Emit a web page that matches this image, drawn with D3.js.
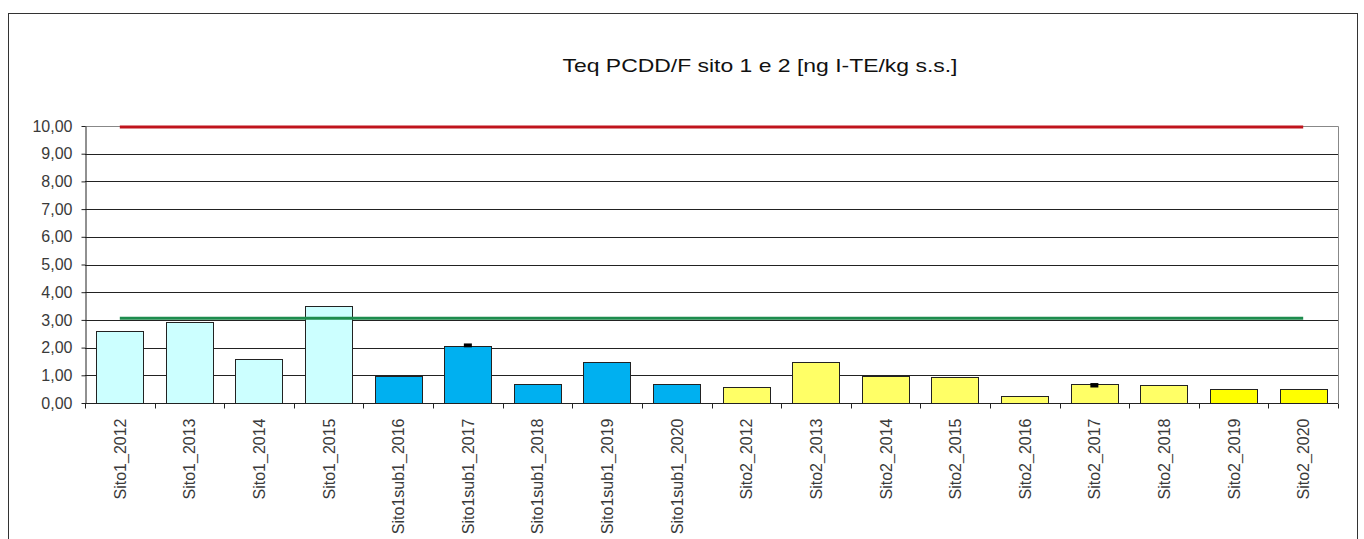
<!DOCTYPE html>
<html><head><meta charset="utf-8">
<script src="https://cdn.jsdelivr.net/npm/d3@7"></script>
<style>body{margin:0;background:#fff}svg{display:block}text{font-family:Arial,"Liberation Sans",sans-serif}</style>
</head><body>
<svg id="c" width="1364" height="539"></svg>
<script>
const categories = ["Sito1_2012","Sito1_2013","Sito1_2014","Sito1_2015","Sito1sub1_2016","Sito1sub1_2017","Sito1sub1_2018","Sito1sub1_2019","Sito1sub1_2020","Sito2_2012","Sito2_2013","Sito2_2014","Sito2_2015","Sito2_2016","Sito2_2017","Sito2_2018","Sito2_2019","Sito2_2020"];
const values = [2.61,2.91,1.59,3.50,0.99,2.07,0.67,1.47,0.67,0.59,1.47,0.97,0.93,0.26,0.70,0.64,0.52,0.52];
const barColors = ["#CCFFFF","#CCFFFF","#CCFFFF","#CCFFFF","#00B0F0","#00B0F0","#00B0F0","#00B0F0","#00B0F0","#FFFF66","#FFFF66","#FFFF66","#FFFF66","#FFFF66","#FFFF66","#FFFF66","#FFFF00","#FFFF00"];
const errCategories = ["Sito1sub1_2017","Sito2_2017"];
const errLow = [2.01,0.56];
const errHigh = [2.15,0.72];
const limitRed = 10;
const limitGreen = 3.06;
const yTicks = [0,1,2,3,4,5,6,7,8,9,10];
const title = "Teq PCDD/F sito 1 e 2 [ng I-TE/kg s.s.]";

const svg = d3.select("#c");
svg.append("rect").attr("x",8.5).attr("y",13.5).attr("width",1349).attr("height",540).attr("fill","#fff").attr("stroke","#333");

const L=85, R=1338, T=126, B=403;
const x = d3.scaleBand().domain(categories).range([L,R]).paddingInner(0.32).paddingOuter(0.16);
const y = d3.scaleLinear().domain([0,10]).range([B,T]);

// gridlines
svg.append("g").selectAll("line").data(yTicks.filter(d=>d>0&&d<10)).join("line")
  .attr("x1",L).attr("x2",R).attr("y1",d=>Math.round(y(d))+0.5).attr("y2",d=>Math.round(y(d))+0.5)
  .attr("stroke","#222").attr("stroke-width",1);
// plot border top/right
svg.append("path").attr("d",`M${L},${T+0.5}H${R+0.5}V${B}`).attr("fill","none").attr("stroke","#888");

// bars
svg.append("g").selectAll("rect").data(categories).join("rect")
  .attr("x",d=>Math.round(x(d))+0.5).attr("width",Math.round(x.bandwidth()))
  .attr("y",(d,i)=>Math.round(y(values[i]))+0.5).attr("height",(d,i)=>Math.round(B-y(values[i])))
  .attr("fill",(d,i)=>barColors[i]).attr("stroke","#222").attr("stroke-width",1);

// error marks
svg.append("g").selectAll("rect").data(errCategories).join("rect")
  .attr("x",d=>x(d)+x.bandwidth()/2-4).attr("width",8)
  .attr("y",(d,i)=>y(errHigh[i])).attr("height",(d,i)=>y(errLow[i])-y(errHigh[i]))
  .attr("fill","#000");

// limit lines
const x0 = x(categories[0])+x.bandwidth()/2, x1 = x(categories[categories.length-1])+x.bandwidth()/2;
svg.append("line").attr("x1",x0).attr("x2",x1).attr("y1",y(limitRed)+1).attr("y2",y(limitRed)+1)
  .attr("stroke","#C0141C").attr("stroke-width",3);
svg.append("line").attr("x1",x0).attr("x2",x1).attr("y1",y(limitGreen)).attr("y2",y(limitGreen))
  .attr("stroke","#1E8C4E").attr("stroke-width",3);

// y axis
const yAxis = d3.axisLeft(y).tickValues(yTicks).tickSize(4).tickSizeOuter(0)
  .tickFormat(d=>d3.format(".2f")(d).replace(".",","));
const gy = svg.append("g").attr("transform",`translate(${L+0.5},0)`).call(yAxis);
gy.select(".domain").attr("stroke","#222");
gy.selectAll(".tick line").attr("stroke","#222");
gy.selectAll("text").attr("font-size",16).attr("fill","#3a3a3a").attr("x",-13);

// x axis
const gx = svg.append("g").attr("transform",`translate(0,${B+0.5})`);
gx.append("line").attr("x1",L).attr("x2",R).attr("stroke","#222");
gx.selectAll("line.t").data(d3.range(categories.length+1)).join("line").attr("class","t")
  .attr("x1",i=>Math.round(L+(R-L)*i/categories.length)+0.5).attr("x2",i=>Math.round(L+(R-L)*i/categories.length)+0.5)
  .attr("y1",0).attr("y2",5).attr("stroke","#222");
gx.selectAll("text").data(categories).join("text")
  .attr("transform",d=>`translate(${x(d)+x.bandwidth()/2+6},15) rotate(-90)`)
  .attr("text-anchor","end").attr("font-size",16).attr("fill","#3a3a3a").text(d=>d);

// title
svg.append("text").attr("x",760).attr("y",72).attr("text-anchor","middle").attr("font-size",19)
  .attr("textLength",395).attr("lengthAdjust","spacingAndGlyphs").attr("fill","#111").text(title);
</script>
</body></html>
